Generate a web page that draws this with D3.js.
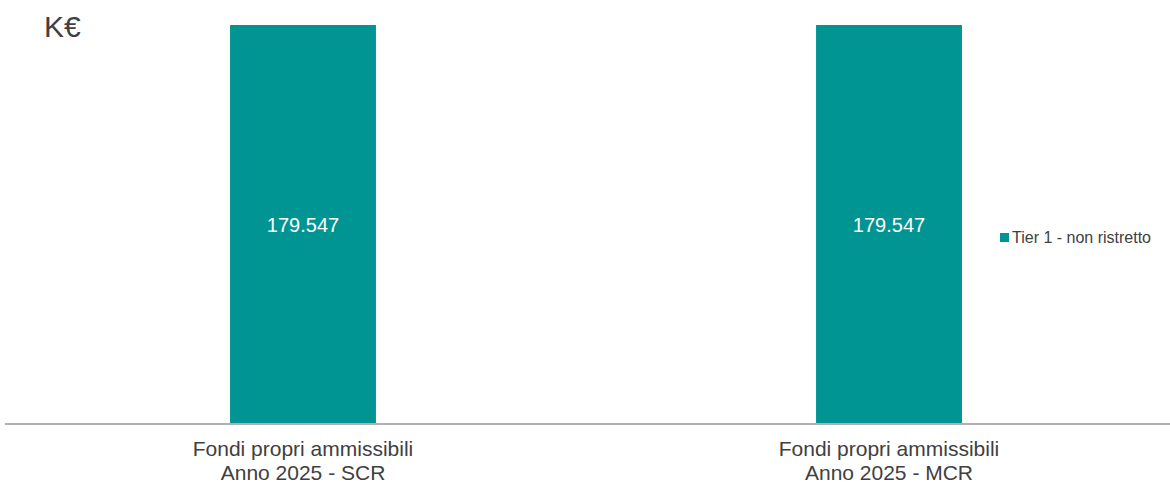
<!DOCTYPE html>
<html>
<head>
<meta charset="utf-8">
<script src="https://cdn.jsdelivr.net/npm/d3@7"></script>
<style>
  body { margin: 0; background: #fff; }
  text { font-family: "Liberation Sans", Arial, sans-serif; }
</style>
</head>
<body>
<div id="chart"></div>
<script>
// data
var categories = [["Fondi propri ammissibili", "Anno 2025 - SCR"], ["Fondi propri ammissibili", "Anno 2025 - MCR"]];
var tier1Values = [179547, 179547];
var seriesName = "Tier 1 - non ristretto";
var unitLabel = "K€";

var width = 1170, height = 482;
var baseline = 423.5, plotTop = 25;
var barColor = "#009593", textColor = "#404040";

var svg = d3.select("#chart").append("svg")
  .attr("width", width)
  .attr("height", height);

// italian number format
var it = d3.formatLocale({decimal: ",", thousands: ".", grouping: [3], currency: ["", "€"]});
var fmt = it.format(",d");

var x = d3.scaleBand()
  .domain(d3.range(categories.length))
  .range([10, 1182])
  .paddingInner(0).paddingOuter(0);

var y = d3.scaleLinear()
  .domain([0, d3.max(tier1Values)])
  .range([baseline, plotTop]);

var barW = x.bandwidth() * 0.249;

// bars
svg.selectAll("rect.bar")
  .data(tier1Values).enter()
  .append("rect")
    .attr("class", "bar")
    .attr("x", function(d, i) { return x(i) + x.bandwidth() / 2 - barW / 2; })
    .attr("y", function(d) { return y(d); })
    .attr("width", barW)
    .attr("height", function(d) { return baseline - y(d); })
    .style("fill", barColor);

// value labels
svg.selectAll("text.val")
  .data(tier1Values).enter()
  .append("text")
    .attr("class", "val")
    .attr("x", function(d, i) { return x(i) + x.bandwidth() / 2; })
    .attr("y", function(d) { return (y(d) + baseline) / 2 + 8; })
    .attr("text-anchor", "middle")
    .style("font-size", "20px")
    .style("fill", "#fff")
    .text(function(d) { return fmt(d); });

// x axis line
svg.append("line")
  .attr("x1", 5).attr("x2", width)
  .attr("y1", baseline + 0.5).attr("y2", baseline + 0.5)
  .style("stroke", "#b0b0b0")
  .style("stroke-width", 2);

// category labels
var cat = svg.selectAll("g.cat")
  .data(categories).enter()
  .append("g")
    .attr("class", "cat")
    .attr("transform", function(d, i) { return "translate(" + (x(i) + x.bandwidth() / 2) + ",0)"; });

cat.selectAll("text")
  .data(function(d) { return d; }).enter()
  .append("text")
    .attr("y", function(d, j) { return 455.5 + j * 24; })
    .attr("text-anchor", "middle")
    .style("font-size", "21px")
    .style("fill", textColor)
    .text(function(d) { return d; });

// unit
svg.append("text")
  .attr("x", 44).attr("y", 37)
  .style("font-size", "30px")
  .style("fill", textColor)
  .text(unitLabel);

// legend
var legend = svg.append("g").attr("transform", "translate(1000,233)");
legend.append("rect")
  .attr("width", 9).attr("height", 9)
  .style("fill", barColor);
legend.append("text")
  .attr("x", 12).attr("y", 9.5)
  .style("font-size", "16px")
  .style("fill", textColor)
  .text(seriesName);
</script>
</body>
</html>
